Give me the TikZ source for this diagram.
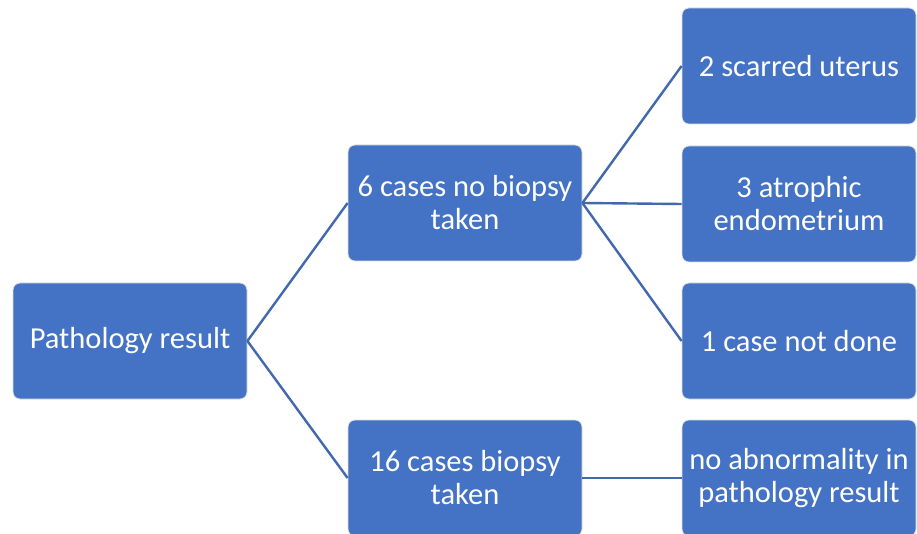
\documentclass[tikz,border=0pt]{standalone}
\usepackage{fontspec}
\setmainfont{Carlito}
\usepackage{tikz}
\usetikzlibrary{positioning}
\definecolor{boxcolor}{HTML}{4472C4}
\definecolor{linkcolor}{HTML}{4268AE}

\begin{document}
\begin{tikzpicture}[
    x=1pt, y=-1pt,
    box/.style={rounded corners=7pt, minimum width=234pt, minimum height=116pt, inner xsep=2pt, fill=boxcolor, draw=white!88!black, line width=0.8pt, text=white, font=\fontsize{30.5}{33}\selectfont, align=center},
    link/.style={linkcolor, line width=2.4pt},
]
\useasboundingbox (0,0) rectangle (917,534);

% Level 1
\node[box] (root) at (130, 341) {Pathology result};

% Level 2
\node[box] (nobiopsy) at (465, 203) {6 cases no biopsy\\taken};
\node[box] (biopsy) at (465, 478) {16 cases biopsy\\taken};

% Level 3
\node[box] (scarred) at (799, 66) {2 scarred uterus};
\node[box] (atrophic) at (799, 204) {3 atrophic\\endometrium};
\node[box] (notdone) at (799, 341) {1 case not done};
\node[box] (normal) at (799, 478) {no abnormality in\\pathology result};

% Connectors
\draw[link] (root.east) -- (nobiopsy.west);
\draw[link] (root.east) -- (biopsy.west);
\draw[link] (nobiopsy.east) -- (scarred.west);
\draw[link] (nobiopsy.east) -- (atrophic.west);
\draw[link] (nobiopsy.east) -- (notdone.west);
\draw[link] (biopsy.east) -- (normal.west);

\end{tikzpicture}
\end{document}
